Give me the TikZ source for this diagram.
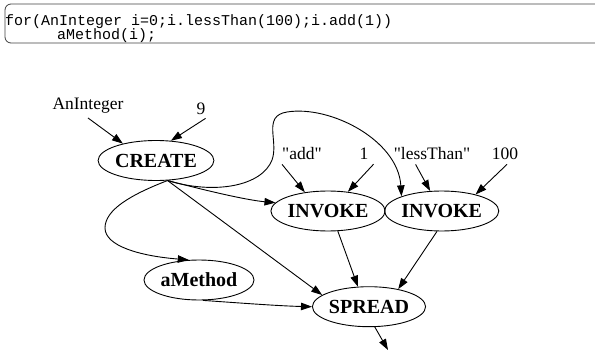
\documentclass[tikz,border=0pt]{standalone}
\usepackage{fontspec}
\setmainfont{Liberation Serif}[Ligatures=TeXOff]
\setmonofont{Liberation Mono}[Ligatures=TeXOff]
\usetikzlibrary{arrows.meta,shapes.geometric}

\begin{document}
\begin{tikzpicture}[x=1pt,y=-1pt,
  op/.style={draw,ellipse,line width=0.9pt,minimum width=110pt,minimum height=40pt,
             inner sep=0pt,font=\fontsize{20}{24}\selectfont\bfseries},
  lbl/.style={inner xsep=0pt,inner ysep=4pt,anchor=base,font=\fontsize{17.5}{21}\selectfont},
  code/.style={inner sep=0pt,anchor=base west,font=\fontsize{15}{18}\selectfont\ttfamily},
  flow/.style={line width=0.9pt,-{Triangle[length=11pt,width=7.5pt]}}]
  \useasboundingbox (0,0) rectangle (595,353);

  % source listing
  \draw[rounded corners=6pt,line width=0.8pt,black!75] (5,4) rectangle (612,43);
  \node[code] (line1) at (5,25.5) {for(AnInteger i=0;i.lessThan(100);i.add(1))};
  \node[code] (line2) at (57,39.5) {aMethod(i);};

  % operation nodes
  \node[op] (create)  at (156,160.5) {CREATE};
  \node[op] (inv1)    at (328,211)   {INVOKE};
  \node[op] (inv2)    at (441.7,211) {INVOKE};
  \node[op] (amethod) at (199,280)   {aMethod};
  \node[op] (spread)  at (369,306.7) {SPREAD};

  % constant inputs
  \node[lbl] (anint)   at (88,110)  {AnInteger};
  \node[lbl] (nine)    at (201,114) {9};
  \node[lbl] (add)     at (302,160) {"add"};
  \node[lbl] (one)     at (364,160) {1};
  \node[lbl] (lt)      at (432,160) {"lessThan"};
  \node[lbl] (hundred) at (505,160) {100};
  \coordinate (sink) at (388,350);

  % inputs into operations
  \draw[flow] (anint.south) -- (create.153);
  \draw[flow] (nine.south east) -- (create.53);
  \draw[flow] (add.south west) -- (inv1.141);
  \draw[flow] ([xshift=5pt]one.south east) -- (inv1.44);
  \draw[flow] ([xshift=22pt]lt.south west) -- (inv2.120);
  \draw[flow] ([xshift=2pt]hundred.south) -- (inv2.26);

  % the created object flows out
  \draw[flow] (create.-60) .. controls (215,195) and (262,186) .. (272,160)
              .. controls (279,141) and (262,116) .. (287,112)
              .. controls (330,105) and (398,140) .. (inv2.160);
  \draw[flow] (create.-60) .. controls (200,189) and (245,200) .. (inv1.171);
  \draw[flow] (create.-60) .. controls (130,195) and (105,210) .. (105,228)
              .. controls (105,246) and (140,256) .. (amethod.117);
  \draw[flow] (create.-60) -- (spread.166);

  % results gathered
  \draw[flow] (amethod.-79) .. controls (240,303) and (280,306) .. (spread.180);
  \draw[flow] (inv1.-64) -- (spread.119);
  \draw[flow] (inv2.-103) -- (spread.31);
  \draw[flow] (spread.-74) -- (sink);
\end{tikzpicture}
\end{document}
